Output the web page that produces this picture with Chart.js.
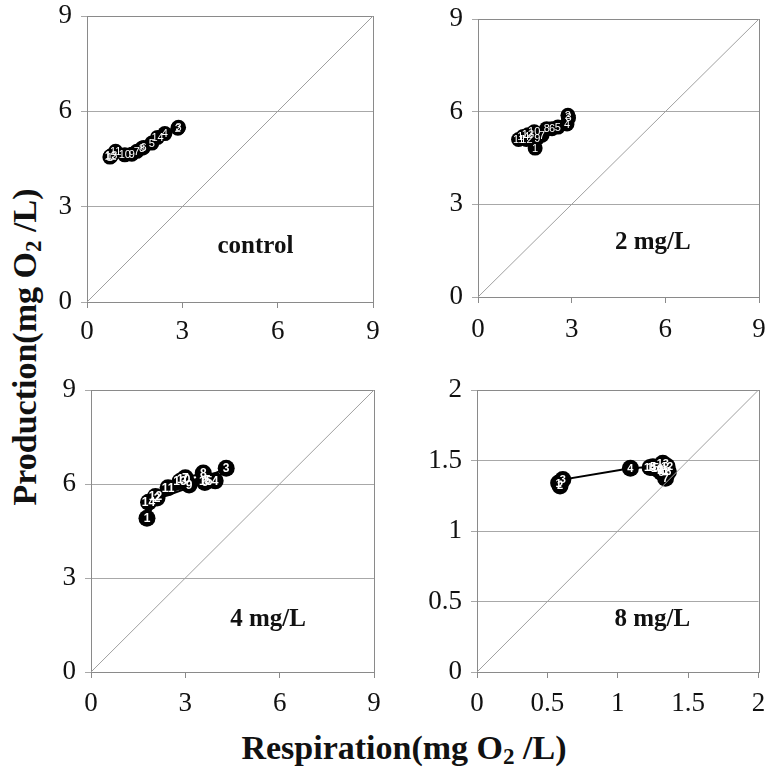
<!DOCTYPE html>
<html><head><meta charset="utf-8">
<title>Production vs Respiration</title>
<script src="https://cdn.jsdelivr.net/npm/chart.js@4.4.0/dist/chart.umd.min.js"></script>
<style>
  body { margin:0; background:#fff; width:767px; height:769px; position:relative; overflow:hidden;
         font-family:'Liberation Serif','Times New Roman',serif; }
  .panel { position:absolute; }
  .title { position:absolute; font-weight:bold; font-size:34px; white-space:nowrap; color:#111; }
  #ytitle { left:25px; top:347px; transform:translate(-50%,-50%) rotate(-90deg); }
  #xtitle { left:404px; top:748px; transform:translate(-50%,-50%); }
  .title sub { font-size:0.68em; vertical-align:-0.22em; line-height:0; }
</style>
</head>
<body>
<div id="ytitle" class="title">Production(mg O<sub>2</sub> /L)</div>
<div id="xtitle" class="title">Respiration(mg O<sub>2</sub> /L)</div>

<canvas id="p1" class="panel" width="383" height="345" style="left:0px;top:0px"></canvas>
<canvas id="p2" class="panel" width="377" height="345" style="left:390px;top:0px"></canvas>
<canvas id="p3" class="panel" width="384" height="362" style="left:0px;top:360px"></canvas>
<canvas id="p4" class="panel" width="377" height="362" style="left:390px;top:360px"></canvas>

<script>
// 各パネルのデータ（番号順に線で結ぶ）
const controlLabels = ['1','2','3','4','5','6','7','8','9','10','11','12','13','14'];
const controlX = [0.72, 2.86, 2.88, 2.45, 2.04, 1.78, 1.57, 1.73, 1.41, 1.19, 0.90, 0.74, 0.76, 2.22];
const controlY = [4.56, 5.47, 5.50, 5.30, 5.00, 4.86, 4.74, 4.84, 4.65, 4.63, 4.74, 4.58, 4.60, 5.18];

const mg2Labels = ['1','2','3','4','5','6','7','8','9','10','11','12','13','14'];
const mg2X = [1.83, 2.88, 2.90, 2.85, 2.56, 2.37, 2.05, 2.20, 1.90, 1.80, 1.30, 1.55, 1.60, 1.45];
const mg2Y = [4.82, 5.88, 5.80, 5.60, 5.50, 5.45, 5.24, 5.45, 5.14, 5.35, 5.10, 5.10, 5.25, 5.20];

const mg4Labels = ['1','2','3','4','5','6','7','8','9','10','11','12','13','14','15'];
const mg4X = [1.78, 2.10, 4.30, 3.95, 3.70, 3.62, 3.00, 3.57, 3.12, 2.95, 2.45, 2.05, 2.83, 1.83, 3.65];
const mg4Y = [4.91, 5.55, 6.50, 6.10, 6.12, 6.05, 6.20, 6.35, 5.97, 6.15, 5.88, 5.60, 6.08, 5.42, 6.08];

const mg8Labels = ['1','2','3','4','5','6','7','8','9','10','11','12','13','14','15'];
const mg8X = [0.58, 0.59, 0.61, 1.09, 1.25, 1.30, 1.34, 1.36, 1.31, 1.28, 1.32, 1.35, 1.32, 1.23, 1.25];
const mg8Y = [1.34, 1.32, 1.365, 1.445, 1.455, 1.43, 1.375, 1.42, 1.415, 1.44, 1.43, 1.46, 1.48, 1.45, 1.45];

// 軸の目盛り
const ticks9 = ['0','3','6','9'];
const ticks2 = ['0','0.5','1','1.5','2'];

const panelNames = ['control','2 mg/L','4 mg/L','8 mg/L'];

// パネルのレイアウト（キャンバス内のプロット領域）
const panels = [
  { id:'p1', xs:controlX, ys:controlY, labels:controlLabels, max:9, step:3, tickLabels:ticks9,
    name:panelNames[0], nameAt:[5.3, 1.73], padTop:16, padRight:10, yw:87, xh:43, xpad:8, r:7.5, lblFont:'11px "Liberation Sans", Arial' },
  { id:'p2', xs:mg2X, ys:mg2Y, labels:mg2Labels, max:9, step:3, tickLabels:ticks9,
    name:panelNames[1], nameAt:[5.6, 1.75], padTop:19, padRight:8, yw:88, xh:48, xpad:11, r:7.5, lblFont:'11px "Liberation Sans", Arial' },
  { id:'p3', xs:mg4X, ys:mg4Y, labels:mg4Labels, max:9, step:3, tickLabels:ticks9,
    name:panelNames[2], nameAt:[5.63, 1.66], padTop:30, padRight:10, yw:91, xh:50, xpad:10, r:8.5, lblFont:'bold 12px "Liberation Sans", Arial' },
  { id:'p4', xs:mg8X, ys:mg8Y, labels:mg8Labels, max:2, step:0.5, tickLabels:ticks2,
    name:panelNames[3], nameAt:[1.245, 0.37], padTop:30, padRight:7, yw:87, xh:50, xpad:10, r:8.5, lblFont:'bold 11px "Liberation Sans", Arial' },
];

// 枠・点番号・パネル名を描くプラグイン
const decoPlugin = {
  id: 'deco',
  beforeDatasetsDraw(chart) {
    const a = chart.chartArea, c = chart.ctx;
    c.save();
    c.strokeStyle = '#8a8a8a';
    c.lineWidth = 1;
    c.strokeRect(Math.round(a.left) + 0.5, Math.round(a.top) + 0.5,
                 Math.round(a.right - a.left), Math.round(a.bottom - a.top));
    c.restore();
  },
  afterDatasetsDraw(chart) {
    const p = chart.options.plugins.deco;
    const c = chart.ctx;
    const meta = chart.getDatasetMeta(1);
    c.save();
    c.fillStyle = '#fff';
    c.font = p.font;
    c.textAlign = 'center';
    c.textBaseline = 'middle';
    meta.data.forEach((pt, i) => c.fillText(p.labels[i], pt.x, pt.y + 0.5));
    c.fillStyle = '#111';
    c.font = 'bold 25px "Liberation Serif", "Times New Roman", serif';
    const x = chart.scales.x.getPixelForValue(p.nameAt[0]);
    const y = chart.scales.y.getPixelForValue(p.nameAt[1]);
    c.fillText(p.name, x, y);
    c.restore();
  }
};

const tickFont = { family:'"Liberation Serif", "Times New Roman", serif', size:27 };

panels.forEach(p => {
  const pts = p.xs.map((x, i) => ({ x: x, y: p.ys[i] }));
  const diag = [{ x: 0, y: 0 }, { x: p.max, y: p.max }];
  const tickCb = v => {
    const i = Math.round(v / p.step);
    return p.tickLabels[i] !== undefined ? p.tickLabels[i] : '';
  };
  new Chart(document.getElementById(p.id), {
    type: 'scatter',
    data: {
      datasets: [
        { data: diag, showLine: true, borderColor: '#a0a0a0', borderWidth: 1, pointRadius: 0 },
        { data: pts, showLine: true, borderColor: '#000', borderWidth: 2,
          pointRadius: p.r, pointBackgroundColor: '#000', pointBorderColor: '#000', pointBorderWidth: 0 }
      ]
    },
    options: {
      responsive: false,
      animation: false,
      layout: { padding: { top: p.padTop, right: p.padRight, left: 0, bottom: 0 } },
      plugins: {
        legend: { display: false },
        tooltip: { enabled: false },
        deco: { labels: p.labels, font: p.lblFont, name: p.name, nameAt: p.nameAt }
      },
      scales: {
        x: {
          type: 'linear', min: 0, max: p.max,
          ticks: { stepSize: p.step, color: '#111', font: tickFont, padding: p.xpad, maxRotation: 0, callback: tickCb },
          grid: { drawOnChartArea: false, drawTicks: true, tickLength: 6, color: '#8a8a8a' },
          border: { display: true, color: '#8a8a8a' },
          // プロット領域の位置は layout.padding で決める
          afterFit: s => { s.height = p.xh; s.paddingLeft = 0; s.paddingRight = 0; }
        },
        y: {
          type: 'linear', min: 0, max: p.max,
          ticks: { stepSize: p.step, color: '#111', font: tickFont, padding: 9, callback: tickCb },
          grid: { drawOnChartArea: true, drawTicks: true, tickLength: 6, color: '#a8a8a8' },
          border: { display: true, color: '#8a8a8a' },
          afterFit: s => { s.width = p.yw; s.paddingTop = 0; s.paddingBottom = 0; }
        }
      }
    },
    plugins: [decoPlugin]
  });
});
</script>
</body></html>
